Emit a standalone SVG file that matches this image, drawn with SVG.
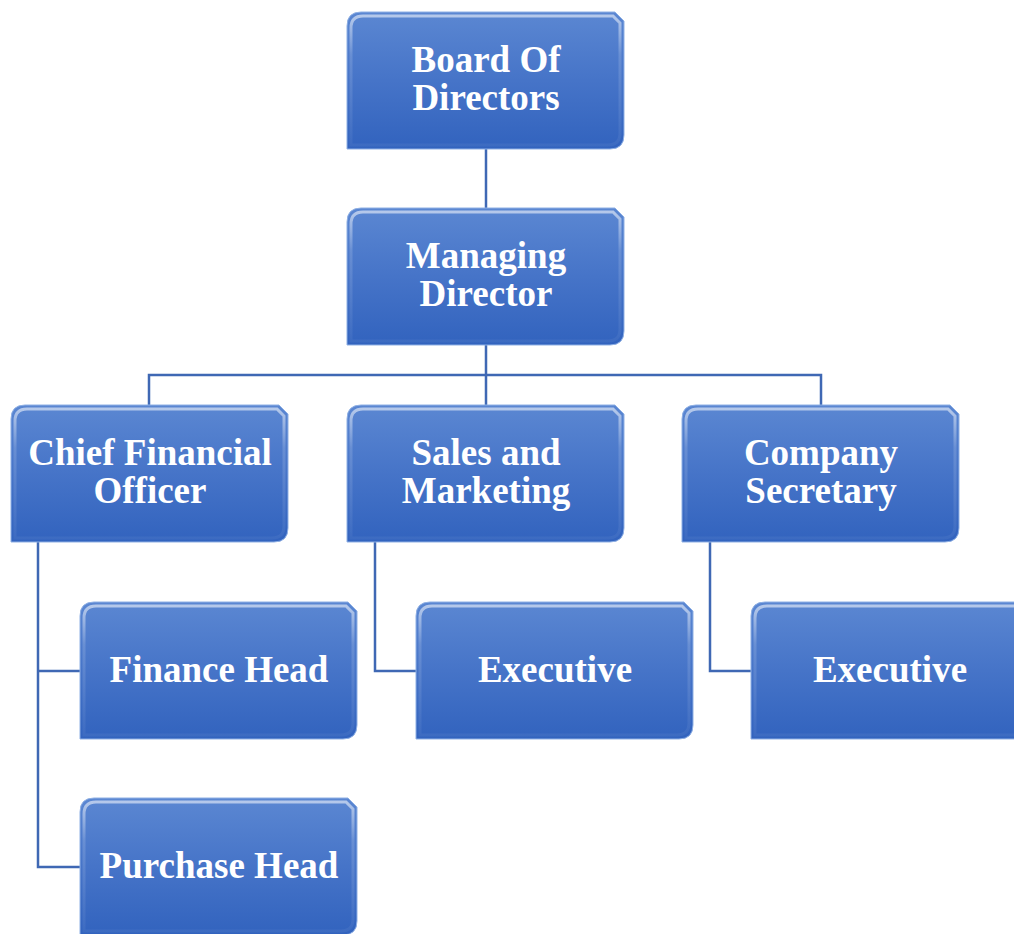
<svg xmlns="http://www.w3.org/2000/svg" xmlns:xlink="http://www.w3.org/1999/xlink" width="1014" height="934" viewBox="0 0 1014 934">
<defs>
<linearGradient id="fillG" x1="0" y1="0" x2="0" y2="1">
<stop offset="0" stop-color="#5B87D2"/>
<stop offset="0.5" stop-color="#4674C8"/>
<stop offset="1" stop-color="#3263BE"/>
</linearGradient>
<linearGradient id="bevG" x1="0" y1="0" x2="0" y2="1">
<stop offset="0" stop-color="#ffffff" stop-opacity="0.55"/>
<stop offset="0.3" stop-color="#ffffff" stop-opacity="0.15"/>
<stop offset="1" stop-color="#ffffff" stop-opacity="0.05"/>
</linearGradient>
<path id="box" d="M14,0 H268 L277,9 V123 Q277,137 263,137 H0 V14 Q0,0 14,0 Z"/>
<path id="bev" d="M16,4 H266 L273,11 V121 Q273,133 261,133 H4 V16 Q4,4 16,4 Z"/>
<g id="node">
<use xlink:href="#box" fill="url(#fillG)" stroke="#8FB0E4" stroke-width="1"/>
<use xlink:href="#bev" fill="none" stroke="url(#bevG)" stroke-width="3"/>
</g>
</defs>
<style>
.lbl{font-family:"Liberation Serif","Times New Roman",serif;font-weight:bold;font-size:37px;fill:#ffffff;text-anchor:middle}
.conn{fill:none;stroke:#3F68B4;stroke-width:2.5}
</style>
<g id="connectors" class="conn">
<path d="M486,149 V208"/>
<path d="M486,345 V375 M149,405 V375 H821 V405 M486,375 V405"/>
<path d="M38,542 V867 H80 M38,671 H80"/>
<path d="M375,542 V671 H416"/>
<path d="M710,542 V671 H751"/>
</g>
<g id="board"><use xlink:href="#node" x="347" y="12"/><text class="lbl" x="486" y="72">Board Of</text><text class="lbl" x="486" y="110">Directors</text></g>
<g id="md"><use xlink:href="#node" x="347" y="208"/><text class="lbl" x="486" y="268">Managing</text><text class="lbl" x="486" y="306">Director</text></g>
<g id="cfo"><use xlink:href="#node" x="11" y="405"/><text class="lbl" x="150" y="465">Chief Financial</text><text class="lbl" x="150" y="503">Officer</text></g>
<g id="sales"><use xlink:href="#node" x="347" y="405"/><text class="lbl" x="486" y="465">Sales and</text><text class="lbl" x="486" y="503">Marketing</text></g>
<g id="secretary"><use xlink:href="#node" x="682" y="405"/><text class="lbl" x="821" y="465">Company</text><text class="lbl" x="821" y="503">Secretary</text></g>
<g id="finance"><use xlink:href="#node" x="80" y="602"/><text class="lbl" x="219" y="682">Finance Head</text></g>
<g id="exec1"><use xlink:href="#node" x="416" y="602"/><text class="lbl" x="555" y="682">Executive</text></g>
<g id="exec2"><use xlink:href="#node" x="751" y="602"/><text class="lbl" x="890" y="682">Executive</text></g>
<g id="purchase"><use xlink:href="#node" x="80" y="798"/><text class="lbl" x="219" y="878">Purchase Head</text></g>
</svg>
